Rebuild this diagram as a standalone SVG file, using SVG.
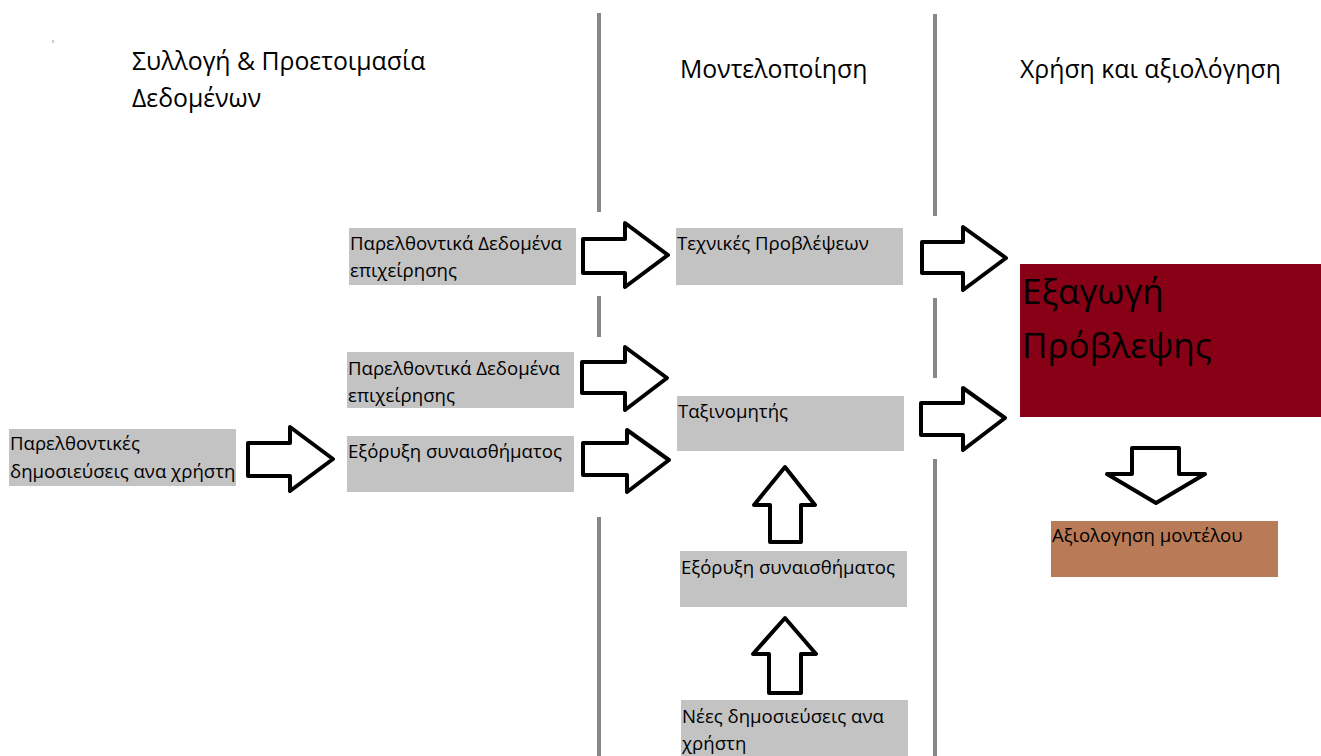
<svg xmlns="http://www.w3.org/2000/svg" width="1321" height="756" viewBox="0 0 1321 756">
  <style>
    text { font-family: "Open Sans", "Noto Sans", sans-serif; fill: #000; }
    .hdr { font-size: 24.8px; }
    .lbl { font-size: 18.6px; }
    .big { font-size: 35px; }
    .box { fill: #c3c3c3; }
    .sep { stroke: #888888; stroke-width: 4; fill: none; }
    .arrow { fill: #ffffff; stroke: #000000; stroke-width: 4; stroke-linejoin: round; }
  </style>

  <rect width="1321" height="756" fill="#ffffff"/>

  <!-- stray tick -->
  <line x1="53" y1="40" x2="53" y2="43" stroke="#999" stroke-width="1"/>

  <!-- phase separators -->
  <g id="separators">
    <line class="sep" x1="599" y1="13" x2="599" y2="212"/>
    <line class="sep" x1="599" y1="296" x2="599" y2="337"/>
    <line class="sep" x1="599" y1="517" x2="599" y2="756"/>
    <line class="sep" x1="935" y1="14" x2="935" y2="216"/>
    <line class="sep" x1="935" y1="298" x2="935" y2="378"/>
    <line class="sep" x1="935" y1="459" x2="935" y2="756"/>
  </g>

  <!-- phase headers -->
  <g id="headers">
    <text class="hdr" x="132" y="70">Συλλογή &amp; Προετοιμασία</text>
    <text class="hdr" x="132" y="107">Δεδομένων</text>
    <text class="hdr" x="680" y="78">Μοντελοποίηση</text>
    <text class="hdr" x="1020" y="78">Χρήση και αξιολόγηση</text>
  </g>

  <!-- nodes -->
  <g id="past-posts">
    <rect class="box" x="9" y="429" width="227" height="57"/>
    <text class="lbl" x="10" y="450">Παρελθοντικές</text>
    <text class="lbl" x="10" y="478">δημοσιεύσεις ανα χρήστη</text>
  </g>

  <g id="business-data-1">
    <rect class="box" x="349" y="228" width="227" height="57"/>
    <text class="lbl" x="350" y="250">Παρελθοντικά Δεδομένα</text>
    <text class="lbl" x="350" y="277">επιχείρησης</text>
  </g>

  <g id="business-data-2">
    <rect class="box" x="347" y="352" width="227" height="56"/>
    <text class="lbl" x="348" y="375">Παρελθοντικά Δεδομένα</text>
    <text class="lbl" x="348" y="402">επιχείρησης</text>
  </g>

  <g id="sentiment-1">
    <rect class="box" x="347" y="436" width="227" height="56"/>
    <text class="lbl" x="348" y="458">Εξόρυξη συναισθήματος</text>
  </g>

  <g id="forecast-techniques">
    <rect class="box" x="676" y="228" width="227" height="57"/>
    <text class="lbl" x="677" y="250">Τεχνικές Προβλέψεων</text>
  </g>

  <g id="classifier">
    <rect class="box" x="677" y="396" width="227" height="55"/>
    <text class="lbl" x="678" y="418">Ταξινομητής</text>
  </g>

  <g id="sentiment-2">
    <rect class="box" x="680" y="551" width="227" height="56"/>
    <text class="lbl" x="681" y="574">Εξόρυξη συναισθήματος</text>
  </g>

  <g id="new-posts">
    <rect class="box" x="681" y="700" width="227" height="60"/>
    <text class="lbl" x="682" y="723">Νέες δημοσιεύσεις ανα</text>
    <text class="lbl" x="682" y="750">χρήστη</text>
  </g>

  <g id="prediction-output">
    <rect x="1020" y="264" width="301" height="153" fill="#880015"/>
    <text class="big" x="1022" y="304">Εξαγωγή</text>
    <text class="big" x="1022" y="358">Πρόβλεψης</text>
  </g>

  <g id="model-evaluation">
    <rect x="1051" y="521" width="227" height="56" fill="#b97a57"/>
    <text class="lbl" x="1052" y="542">Αξιολογηση μοντέλου</text>
  </g>

  <!-- block-arrow connectors -->
  <g id="connectors">
    <polygon class="arrow" points="248,443 290,443 290,427 333,459 290,491 290,476 248,476"/>
    <polygon class="arrow" points="583,239 625,239 625,223 668,255 625,287 625,273 583,273"/>
    <polygon class="arrow" points="582,362 625,362 625,347 667,378 625,410 625,393 582,393"/>
    <polygon class="arrow" points="583,443 627,443 627,430 669,460 627,492 627,475 583,475"/>
    <polygon class="arrow" points="922,242 963,242 963,227 1006,258 963,290 963,273 922,273"/>
    <polygon class="arrow" points="921,403 963,403 963,388 1005,418 963,450 963,435 921,435"/>
    <polygon class="arrow" points="770,542 770,505 754,505 785,467 815,505 801,505 801,542"/>
    <polygon class="arrow" points="769,693 769,654 753,654 785,618 816,654 801,654 801,693"/>
    <polygon class="arrow" points="1132,448 1179,448 1179,474 1205,474 1156,503 1107,474 1132,474"/>
  </g>
</svg>
